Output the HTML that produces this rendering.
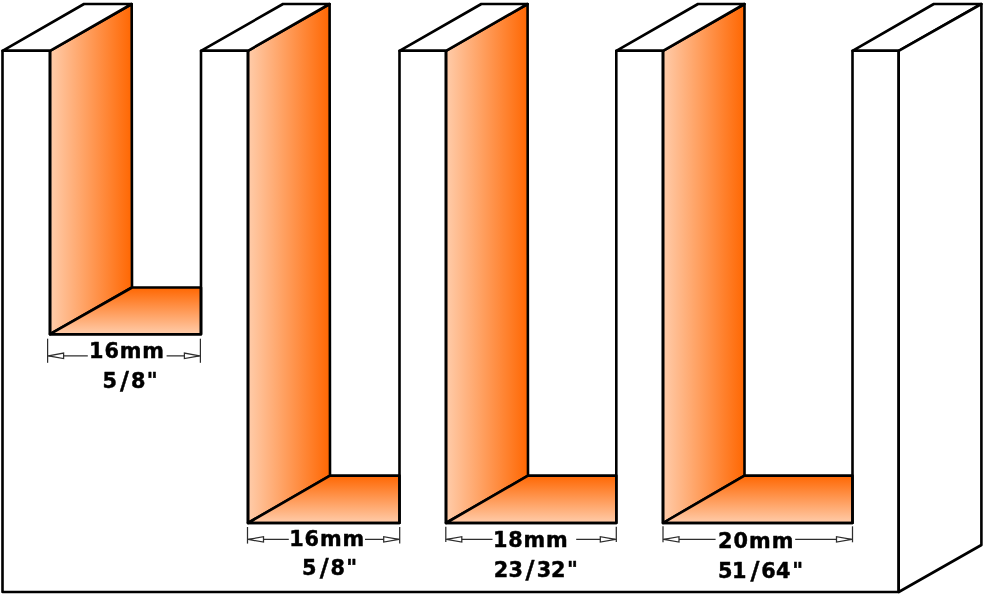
<!DOCTYPE html>
<html><head><meta charset="utf-8"><title>Groove widths</title>
<style>
html,body{margin:0;padding:0;background:#fff;}
body{width:984px;height:600px;overflow:hidden;}
svg{display:block;}
text{font-family:"DejaVu Sans","Liberation Sans",sans-serif;font-weight:bold;fill:#000;}
</style></head><body>
<svg width="984" height="600" viewBox="0 0 984 600">
<defs>
<linearGradient id="gh" x1="0" y1="0" x2="1" y2="0"><stop offset="0" stop-color="#ffccaa"/><stop offset="1" stop-color="#ff6702"/></linearGradient>
<linearGradient id="gv" x1="0" y1="0" x2="0" y2="1"><stop offset="0" stop-color="#ff6702"/><stop offset="1" stop-color="#ffccaa"/></linearGradient>
</defs>
<rect width="984" height="600" fill="#fff"/>
<g stroke="#000" stroke-width="2.6" stroke-linejoin="round" stroke-linecap="round" fill="#fff">
<polygon points="50,50.8 131.7,4 132,287.5 50,334.2" fill="url(#gh)"/>
<polygon points="50,334.2 132,287.5 201,287.5 201,334.2" fill="url(#gv)"/>
<polygon points="248,50.8 329.6,4 330,475.6 248,523.0" fill="url(#gh)"/>
<polygon points="248,523.0 330,475.6 399.5,475.6 399.5,523.0" fill="url(#gv)"/>
<polygon points="446,50.8 527.6,4 528,475.6 446,523.0" fill="url(#gh)"/>
<polygon points="446,523.0 528,475.6 616.3,475.6 616.3,523.0" fill="url(#gv)"/>
<polygon points="663,50.8 744.5,4 744.5,475.6 663,523.0" fill="url(#gh)"/>
<polygon points="663,523.0 744.5,475.6 852.5,475.6 852.5,523.0" fill="url(#gv)"/>
<polygon points="2.5,50.8 84,4 131.7,4 50,50.8"/>
<polygon points="201,50.8 283,4 329.6,4 248,50.8"/>
<polygon points="399.5,50.8 481.3,4 527.6,4 446,50.8"/>
<polygon points="616.3,50.8 698,4 744.5,4 663,50.8"/>
<polygon points="852.5,50.8 933.8,4 981.4,4 898.7,50.8"/>
<polygon points="898.7,50.8 981.4,4 981.4,545 898.7,592"/>
<polygon points="2.5,592 2.5,50.8 50,50.8 50,334.2 201,334.2 201,50.8 248,50.8 248,523.0 399.5,523.0 399.5,50.8 446,50.8 446,523.0 616.3,523.0 616.3,50.8 663,50.8 663,523.0 852.5,523.0 852.5,50.8 898.7,50.8 898.7,592" fill="none"/>
</g>
<g stroke="#2e2e2e" stroke-width="1.25" fill="#fff">
<line x1="47.6" y1="338.7" x2="47.6" y2="362.8"/>
<line x1="200.4" y1="338.7" x2="200.4" y2="362.8"/>
<line x1="47.6" y1="355.8" x2="87.8" y2="355.8"/>
<line x1="166.6" y1="355.8" x2="200.4" y2="355.8"/>
<polygon points="48.4,355.8 63.6,353.1 63.6,358.5"/>
<polygon points="199.6,355.8 184.4,353.1 184.4,358.5"/>
<line x1="247.5" y1="527" x2="247.5" y2="543.6"/>
<line x1="399.7" y1="527" x2="399.7" y2="543.6"/>
<line x1="247.5" y1="539.4" x2="288.8" y2="539.4"/>
<line x1="365" y1="539.4" x2="399.7" y2="539.4"/>
<polygon points="248.3,539.4 263.5,536.7 263.5,542.1"/>
<polygon points="398.9,539.4 383.7,536.7 383.7,542.1"/>
<line x1="445.8" y1="526.7" x2="445.8" y2="542"/>
<line x1="616.3" y1="526.7" x2="616.3" y2="542"/>
<line x1="445.8" y1="539.4" x2="492.5" y2="539.4"/>
<line x1="576.2" y1="539.4" x2="616.3" y2="539.4"/>
<polygon points="446.6,539.4 461.8,536.7 461.8,542.1"/>
<polygon points="615.5,539.4 600.3,536.7 600.3,542.1"/>
<line x1="663" y1="526.3" x2="663" y2="542.3"/>
<line x1="852.5" y1="526.3" x2="852.5" y2="542.3"/>
<line x1="663" y1="539.4" x2="715.6" y2="539.4"/>
<line x1="795.2" y1="539.4" x2="852.5" y2="539.4"/>
<polygon points="663.8,539.4 679,536.7 679,542.1"/>
<polygon points="851.7,539.4 836.5,536.7 836.5,542.1"/>
</g>
<g font-size="20.8" stroke="#000" stroke-width="0.45" stroke-linejoin="round">
<text x="89.1" y="358.4" textLength="74.8" lengthAdjust="spacing">16mm</text>
<text x="289.2" y="545.6" textLength="75.0" lengthAdjust="spacing">16mm</text>
<text x="493.0" y="546.9" textLength="74.7" lengthAdjust="spacing">18mm</text>
<text x="718.0" y="547.8" textLength="75.3" lengthAdjust="spacing">20mm</text>
<text y="387.8"><tspan x="102.4" y="387.8">5</tspan><tspan x="119.9" y="389.0" font-size="24.5">/</tspan><tspan x="130.9" y="387.8">8</tspan><tspan x="146.8" y="387.8">&quot;</tspan></text>
<text y="575.0"><tspan x="302.0" y="575.0">5</tspan><tspan x="319.7" y="576.2" font-size="24.5">/</tspan><tspan x="330.6" y="575.0">8</tspan><tspan x="346.3" y="575.0">&quot;</tspan></text>
<text y="576.5"><tspan x="493.8" y="576.5">2</tspan><tspan x="508.6" y="576.5">3</tspan><tspan x="525.6" y="577.7" font-size="24.5">/</tspan><tspan x="536.8" y="576.5">3</tspan><tspan x="551.1" y="576.5">2</tspan><tspan x="566.9" y="576.5">&quot;</tspan></text>
<text y="577.5"><tspan x="718.0" y="577.5">5</tspan><tspan x="732.0" y="577.5">1</tspan><tspan x="750.6" y="578.7" font-size="24.5">/</tspan><tspan x="761.3" y="577.5">6</tspan><tspan x="776.1" y="577.5">4</tspan><tspan x="792.3" y="577.5">&quot;</tspan></text>
</g>
</svg></body></html>
